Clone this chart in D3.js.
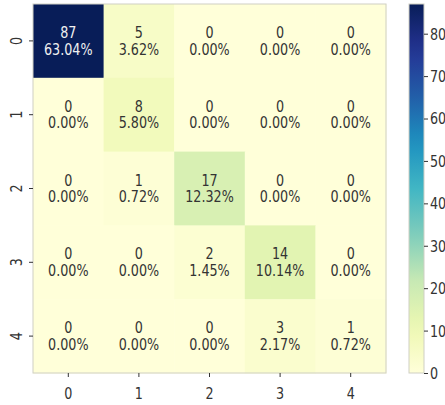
<!DOCTYPE html>
<html>
<head>
<meta charset="utf-8">
<script src="https://cdn.jsdelivr.net/npm/d3@7"></script>
<style>
  html, body { margin: 0; padding: 0; background: #ffffff; }
  svg { display: block; }
  text { font-family: "DejaVu Sans", sans-serif; }
</style>
</head>
<body>
<svg id="chart" width="445" height="405"></svg>
<script>
// Confusion matrix: rows = actual class, columns = predicted class
const rowLabels = ["0", "1", "2", "3", "4"];
const colLabels = ["0", "1", "2", "3", "4"];
const counts = [
  [87, 5, 0, 0, 0],
  [0, 8, 0, 0, 0],
  [0, 1, 17, 0, 0],
  [0, 0, 2, 14, 0],
  [0, 0, 0, 3, 1]
];
const colorbarTicks = [0, 10, 20, 30, 40, 50, 60, 70, 80];
// YlGnBu anchor colours (ColorBrewer, 9 classes)
const ylgnbu = ["#ffffd9", "#edf8b1", "#c7e9b4", "#7fcdbb", "#41b6c4",
                "#1d91c0", "#225ea8", "#253494", "#081d58"];

const plot = { left: 33, right: 386, top: 4, bottom: 373 };
const cbar = { left: 409, right: 424 };
const fontSize = 15;
const squeeze = 0.85;          // horizontal glyph compression
const textColor = "#333333";
const borderColor = "#cfcfc4";

const svg = d3.select("#chart");

const total = d3.sum(counts.flat());
const vmin = d3.min(counts.flat());
const vmax = d3.max(counts.flat());

const color = d3.scaleLinear()
  .domain(ylgnbu.map((_, i) => vmin + (vmax - vmin) * i / (ylgnbu.length - 1)))
  .range(ylgnbu)
  .interpolate(d3.interpolateRgb);

const x = d3.scaleBand().domain(colLabels).range([plot.left, plot.right]);
const y = d3.scaleBand().domain(rowLabels).range([plot.top, plot.bottom]);

// cells
const cells = [];
counts.forEach((row, i) => row.forEach((v, j) => cells.push({ r: rowLabels[i], c: colLabels[j], v })));

const g = svg.append("g");
g.selectAll("rect.cell")
  .data(cells)
  .join("rect")
  .attr("class", "cell")
  .attr("x", d => x(d.c))
  .attr("y", d => y(d.r))
  .attr("width", x.bandwidth() + 0.5)
  .attr("height", y.bandwidth() + 0.5)
  .attr("fill", d => color(d.v));

// relative luminance decides annotation colour
function lum(c) {
  const rgb = d3.rgb(c);
  const f = u => { u /= 255; return u <= 0.03928 ? u / 12.92 : Math.pow((u + 0.055) / 1.055, 2.4); };
  return 0.2126 * f(rgb.r) + 0.7152 * f(rgb.g) + 0.0722 * f(rgb.b);
}

const lineGap = 8.3;
const ann = g.selectAll("g.ann")
  .data(cells)
  .join("g")
  .attr("class", "ann")
  .attr("transform", d => `translate(${x(d.c) + x.bandwidth() / 2},${y(d.r) + y.bandwidth() / 2})`);

["count", "pct"].forEach((kind, k) => {
  ann.append("text")
    .attr("transform", `translate(0,${(k === 0 ? -lineGap : lineGap) + 0.364 * fontSize}) scale(${squeeze},1)`)
    .attr("text-anchor", "middle")
    .attr("font-size", fontSize)
    .attr("fill", d => lum(color(d.v)) > 0.408 ? textColor : "#f0f0f0")
    .text(d => kind === "count" ? d.v : d3.format(".2%")(d.v / total));
});

// heatmap frame
g.append("rect")
  .attr("x", plot.left).attr("y", plot.top)
  .attr("width", plot.right - plot.left).attr("height", plot.bottom - plot.top)
  .attr("fill", "none").attr("stroke", borderColor).attr("stroke-width", 1);

// axes
function styleAxis(sel) {
  sel.select(".domain").remove();
  sel.selectAll(".tick line").attr("stroke", textColor).attr("stroke-width", 1);
  sel.selectAll(".tick text").attr("fill", textColor).attr("font-size", fontSize).attr("font-family", "DejaVu Sans");
}

const xAxis = svg.append("g")
  .attr("transform", `translate(0,${plot.bottom})`)
  .call(d3.axisBottom(x).tickSize(4).tickPadding(0));
styleAxis(xAxis);
xAxis.selectAll(".tick text")
  .attr("y", null).attr("dy", null)
  .attr("transform", `translate(0,${20.3 + 0.364 * fontSize}) scale(${squeeze},1)`);

const yAxis = svg.append("g")
  .attr("transform", `translate(${plot.left},0)`)
  .call(d3.axisLeft(y).tickSize(4).tickPadding(0));
styleAxis(yAxis);
yAxis.selectAll(".tick text")
  .attr("x", null).attr("dy", null)
  .attr("text-anchor", "middle")
  .attr("transform", `translate(${-16.2 + 0.364 * fontSize},0) rotate(-90) scale(${squeeze},1)`);

// colorbar
const cScale = d3.scaleLinear().domain([vmin, vmax]).range([plot.bottom, plot.top]);
const defs = svg.append("defs");
const grad = defs.append("linearGradient")
  .attr("id", "cbarGrad")
  .attr("x1", 0).attr("y1", 1).attr("x2", 0).attr("y2", 0);
d3.range(0, 1.0001, 0.05).forEach(t => {
  grad.append("stop")
    .attr("offset", t)
    .attr("stop-color", color(vmin + t * (vmax - vmin)));
});
svg.append("rect")
  .attr("x", cbar.left).attr("y", plot.top)
  .attr("width", cbar.right - cbar.left).attr("height", plot.bottom - plot.top)
  .attr("fill", "url(#cbarGrad)")
  .attr("stroke", borderColor).attr("stroke-width", 1);

const cAxis = svg.append("g")
  .attr("transform", `translate(${cbar.right},0)`)
  .call(d3.axisRight(cScale).tickValues(colorbarTicks).tickSize(4).tickPadding(0));
styleAxis(cAxis);
cAxis.selectAll(".tick text")
  .attr("x", null).attr("dy", null)
  .attr("text-anchor", "start")
  .attr("transform", `translate(6,${0.364 * fontSize}) scale(${squeeze},1)`);
</script>
</body>
</html>
